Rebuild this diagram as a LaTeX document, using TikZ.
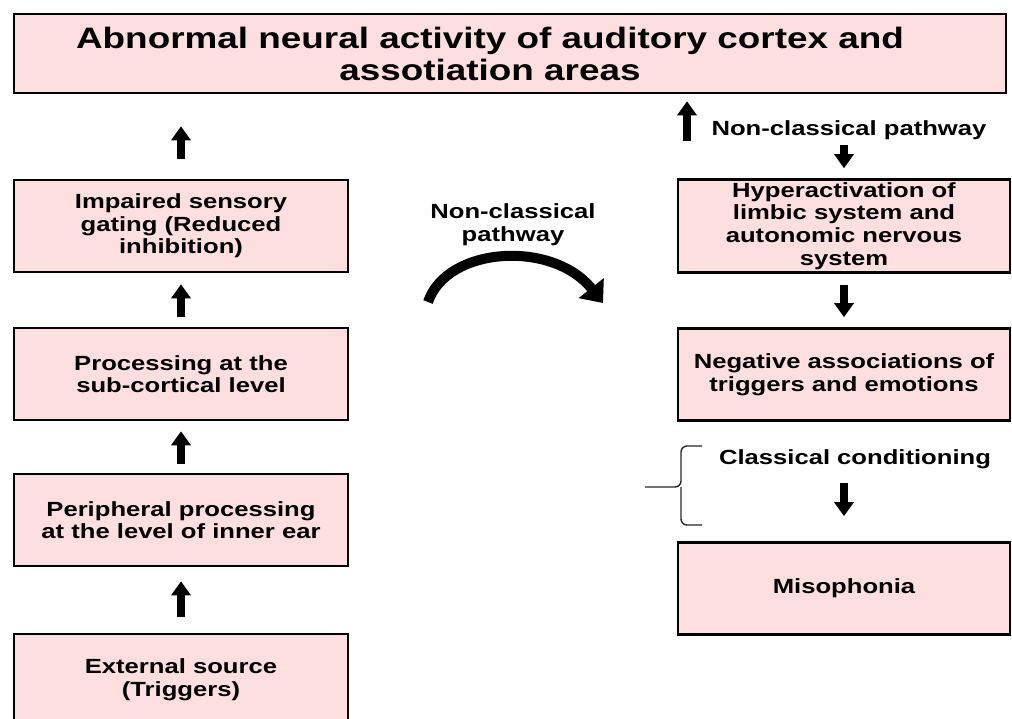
\documentclass[tikz,border=0pt]{standalone}
\usepackage{fontspec}
\newfontfamily\diagfont{Liberation Sans}[FakeStretch=1.25]
\usepackage{tikz}
\usetikzlibrary{arrows.meta,positioning,calc}
\definecolor{boxpink}{HTML}{FDDFE0}

\begin{document}
\begin{tikzpicture}[x=1pt,y=-1pt]
\tikzset{
  block/.style={rectangle, draw=black, fill=boxpink, line width=2.6pt,
    minimum height=92pt, align=center, inner sep=3pt,
    font=\diagfont\bfseries\fontsize{20.5}{22.6}\selectfont},
  leftbox/.style={block, minimum width=334pt},
  rightbox/.style={block, minimum width=332pt},
  titlebox/.style={block, minimum width=992pt, minimum height=79pt,
    font=\diagfont\bfseries\fontsize{29.5}{32}\selectfont},
  flow/.style={-{Triangle[width=19pt,length=14pt]}, line width=7.5pt, draw=black},
  curved/.style={-{Triangle[width=31pt,length=19pt]}, line width=10pt, draw=black},
  brace/.style={line width=1.4pt, draw=black!85, rounded corners=6pt},
  note/.style={font=\diagfont\bfseries\fontsize{20.5}{22.6}\selectfont, align=center, inner sep=3pt}
}
\useasboundingbox (0,0) rectangle (1012,719);
\clip (0,0) rectangle (1012,719);

\node[titlebox] (cortex) at (510,53.5) {Abnormal neural activity of auditory cortex and\hspace*{40pt}\\assotiation areas\hspace*{40pt}};

% left column: classical pathway
\node[leftbox] (gating) at (181,226) {Impaired sensory\\gating (Reduced\\inhibition)};
\node[leftbox, below=53.4pt of gating] (subcort) {Processing at the\\sub-cortical level};
\node[leftbox, below=51.4pt of subcort] (periph) {Peripheral processing\\at the level of inner ear};
\node[leftbox, below=65.4pt of periph] (source) {External source\\(Triggers)};

% right column
\node[rightbox] (limbic) at (844,226) {Hyperactivation of\\limbic system and\\autonomic nervous\\system};
\node[rightbox, below=53.4pt of limbic] (assoc) {Negative associations of\\triggers and emotions};
\node[rightbox, below=119.4pt of assoc] (miso) {Misophonia};

\node[note] (ncright) at (849,130) {Non-classical pathway};
\node[note] (classcond) at (855,459) {Classical conditioning};
\node[note] (ncmid) at (513,225) {Non-classical\\pathway};

\draw[flow, shorten <=16pt, shorten >=14pt] (source) -- (periph);
\draw[flow, shorten <=9pt, shorten >=10pt] (periph) -- (subcort);
\draw[flow, shorten <=10pt, shorten >=11pt] (subcort) -- (gating);
\draw[flow, shorten <=20pt, shorten >=32pt] (gating.north) -- (gating.north |- cortex.south);

\coordinate (upbase) at (687,141);
\draw[flow, shorten >=7pt] (upbase) -- (upbase |- cortex.south);
\draw[flow, shorten <=2pt, shorten >=10pt] (limbic.north |- ncright.south) -- (limbic.north);
\draw[flow, shorten <=11pt, shorten >=10pt] (limbic) -- (assoc);
\draw[flow, shorten <=11pt, shorten >=25pt] (miso.north |- classcond.south) -- (miso.north);

% curved arrow between the columns
\coordinate (bendfrom) at (428,302);
\coordinate (bendto) at (603,303);
\draw[curved] (bendfrom) .. controls (447,246) and (553,240) .. (bendto);

% brace beside classical conditioning
\coordinate (bracetip) at (645,487);
\draw[brace] (702,446) -- (681,446) -- (681,487) -- (bracetip);
\draw[brace] (702,525) -- (681,525) -- (681,487);
\end{tikzpicture}
\end{document}
